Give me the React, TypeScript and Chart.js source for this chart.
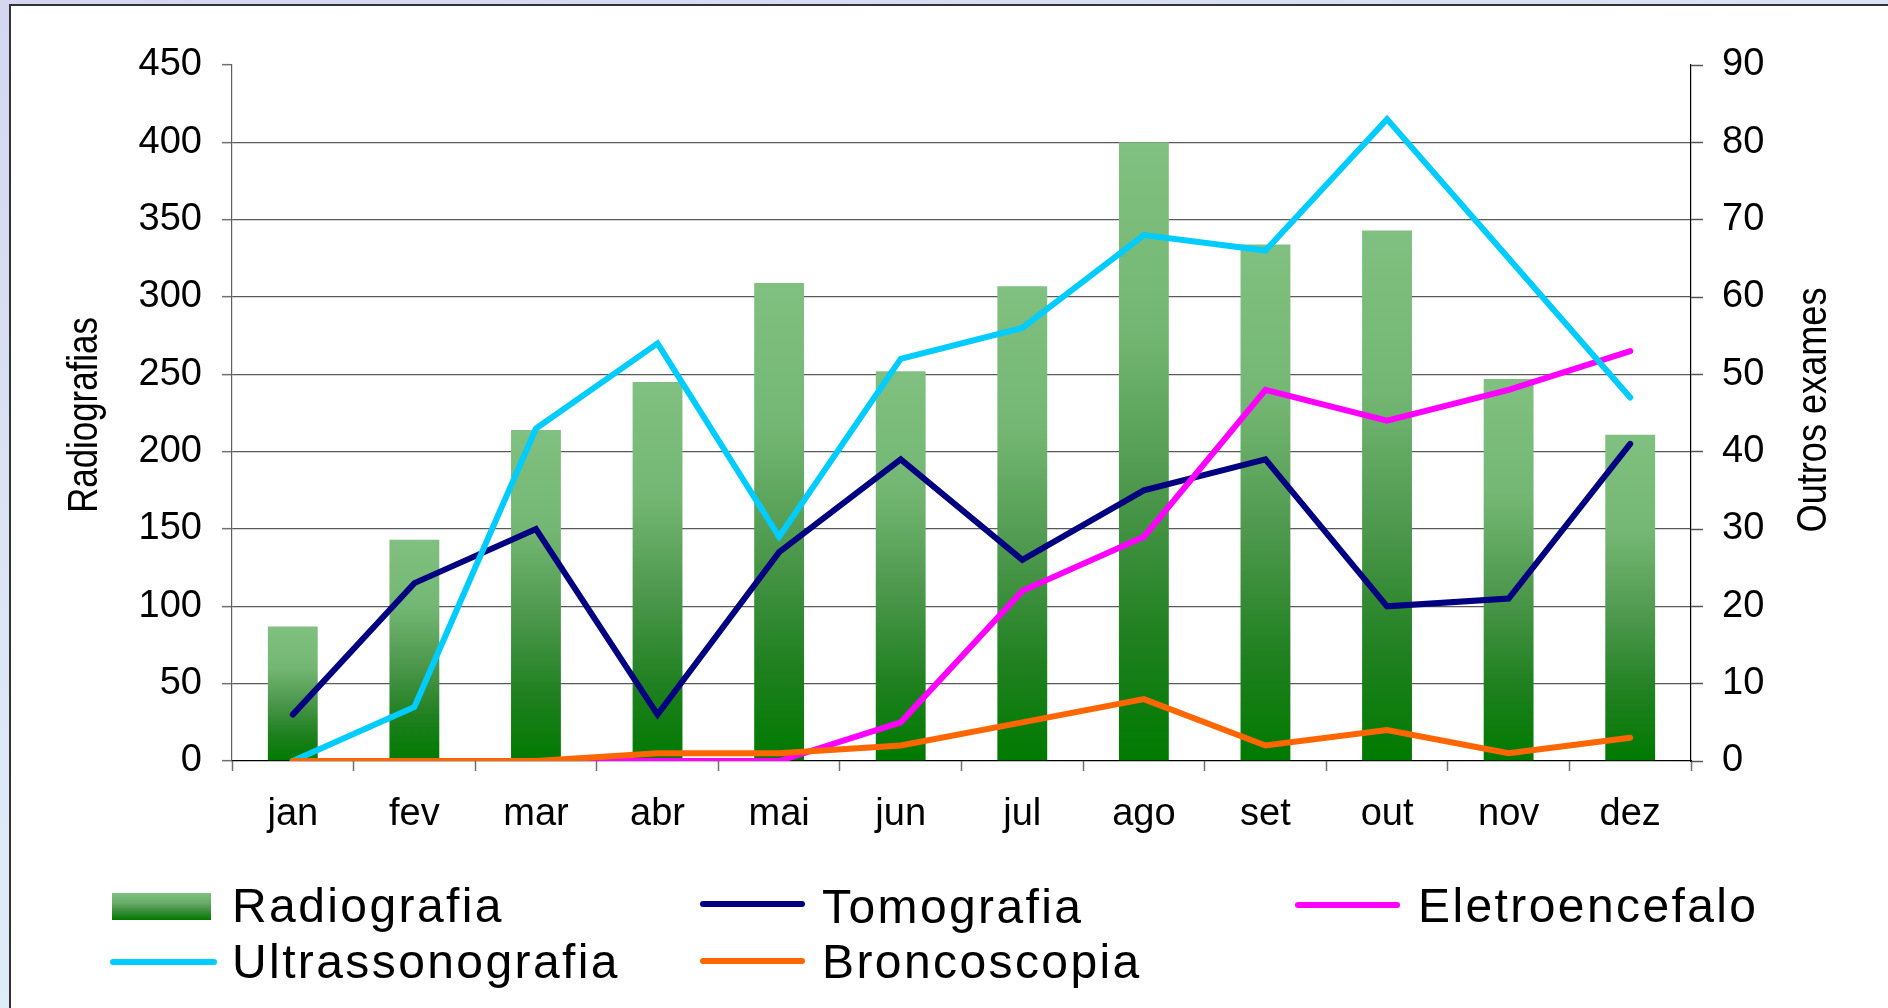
import React, { useEffect, useRef } from 'react';
import { Chart, registerables } from 'chart.js';

Chart.register(...registerables);

// ---------- data ----------
const months = ['jan', 'fev', 'mar', 'abr', 'mai', 'jun', 'jul', 'ago', 'set', 'out', 'nov', 'dez'];
const radiografia = [87, 143, 214, 245, 309, 252, 307, 400, 334, 343, 247, 211];
const tomografia = [6, 23, 30, 6, 27, 39, 26, 35, 39, 20, 21, 41];
const eletroencefalo = [0, 0, 0, 0, 0, 5, 22, 29, 48, 44, 48, 53];
const ultrassonografia = [0, 7, 43, 54, 29, 52, 56, 68, 66, 83, 65, 47];
const broncoscopia = [0, 0, 0, 1, 1, 2, 5, 8, 2, 4, 1, 3];

const leftAxisTitle = 'Radiografias';
const rightAxisTitle = 'Outros exames';
const leftMax = 450;
const leftStep = 50;
const rightMax = 90;
const rightStep = 10;

const seriesNames = ['Radiografia', 'Tomografia', 'Eletroencefalo', 'Ultrassonografia', 'Broncoscopia'];

// ---------- styles ----------
const FONT = '"Liberation Sans", Arial, Helvetica, sans-serif';
const COLORS = {
  tomografia: '#000080',
  eletro: '#ff00ff',
  ultra: '#00ccff',
  bronco: '#ff6600',
};
const BAR_STOPS: [number, string][] = [
  [0, '#80c080'],
  [0.3, '#74b774'],
  [0.55, '#4f994f'],
  [0.8, '#1f801f'],
  [1, '#007a00'],
];
const CSS_BAR_GRADIENT = 'linear-gradient(to bottom, #80c080 0%, #6aae6a 35%, #3f8f3f 65%, #007a00 100%)';

const W = 1888;
const H = 1008;
const AREA = { left: 232, right: 1691, top: 65, bottom: 761 };

const axisTitlePlugin = {
  id: 'axisTitlesCustom',
  afterDraw(chart: any) {
    const { ctx, chartArea } = chart;
    const midY = (chartArea.top + chartArea.bottom) / 2;
    const draw = (text: string, x: number, y: number, sx: number) => {
      ctx.save();
      ctx.translate(x, y);
      ctx.rotate(-Math.PI / 2);
      ctx.scale(sx, 1);
      ctx.font = `42px ${FONT}`;
      ctx.fillStyle = '#000';
      ctx.textAlign = 'center';
      ctx.textBaseline = 'alphabetic';
      ctx.fillText(text, 0, 0);
      ctx.restore();
    };
    draw(leftAxisTitle, chartArea.left - 135, midY + 2, 0.83);
    draw(rightAxisTitle, chartArea.right + 135, midY - 3, 0.86);
  },
};

type LegendLayout = {
  kind: 'bar' | 'line';
  color: string;
  sx: number; sy: number; sw: number; sh: number;
  tx: number; baseline: number;
};

const legendLayout: LegendLayout[] = [
  { kind: 'bar', color: '', sx: 112, sy: 893, sw: 99, sh: 27, tx: 232, baseline: 923 },
  { kind: 'line', color: COLORS.tomografia, sx: 700, sy: 901, sw: 105, sh: 6, tx: 822, baseline: 924 },
  { kind: 'line', color: COLORS.eletro, sx: 1295, sy: 902, sw: 105, sh: 6, tx: 1418, baseline: 923 },
  { kind: 'line', color: COLORS.ultra, sx: 110, sy: 959, sw: 107, sh: 6, tx: 232, baseline: 979 },
  { kind: 'line', color: COLORS.bronco, sx: 700, sy: 958, sw: 105, sh: 6, tx: 822, baseline: 979 },
];

export default function App() {
  const canvasRef = useRef<HTMLCanvasElement | null>(null);

  useEffect(() => {
    const canvas = canvasRef.current;
    if (!canvas) return;

    const barGradient = (c: any) => {
      const chart = c.chart;
      if (!chart.chartArea || c.type !== 'data') return '#4f994f';
      const ys = chart.scales.y;
      const top = ys.getPixelForValue(c.raw);
      const bottom = ys.getPixelForValue(0);
      if (!isFinite(top) || !isFinite(bottom) || bottom - top < 1) return '#4f994f';
      const g = chart.ctx.createLinearGradient(0, top, 0, bottom);
      BAR_STOPS.forEach(([p, col]) => g.addColorStop(p, col));
      return g;
    };

    const lineDs = (label: string, data: number[], color: string, order: number) => ({
      type: 'line' as const,
      label,
      data,
      yAxisID: 'y1',
      borderColor: color,
      backgroundColor: color,
      borderWidth: 6,
      borderCapStyle: 'round' as const,
      borderJoinStyle: 'miter' as const,
      pointRadius: 0,
      pointHoverRadius: 0,
      tension: 0,
      fill: false,
      order,
    });

    const chart = new Chart(canvas, {
      type: 'bar',
      data: {
        labels: months,
        datasets: [
          {
            type: 'bar',
            label: seriesNames[0],
            data: radiografia,
            yAxisID: 'y',
            backgroundColor: barGradient,
            borderWidth: 0,
            barPercentage: 0.41,
            categoryPercentage: 1,
            order: 10,
          } as any,
          lineDs(seriesNames[1], tomografia, COLORS.tomografia, 5),
          lineDs(seriesNames[2], eletroencefalo, COLORS.eletro, 4),
          lineDs(seriesNames[3], ultrassonografia, COLORS.ultra, 3),
          lineDs(seriesNames[4], broncoscopia, COLORS.bronco, 1),
        ],
      },
      options: {
        responsive: false,
        maintainAspectRatio: false,
        animation: false,
        devicePixelRatio: 1,
        layout: { padding: { top: AREA.top, left: 0, right: 0, bottom: 0 } },
        plugins: {
          legend: { display: false },
          tooltip: { enabled: false },
          title: { display: false },
        },
        scales: {
          x: {
            type: 'category',
            offset: true,
            grid: {
              offset: true,
              drawOnChartArea: false,
              drawTicks: true,
              tickLength: 10,
              tickColor: '#707070',
              tickWidth: 1.5,
            },
            border: { display: true, color: '#000', width: 1.2 },
            ticks: {
              color: '#000',
              font: { family: FONT, size: 38 },
              padding: 21,
              maxRotation: 0,
              autoSkip: false,
            },
            afterFit: (s: any) => { s.height = H - AREA.bottom; },
          },
          y: {
            type: 'linear',
            position: 'left',
            min: 0,
            max: leftMax,
            ticks: {
              stepSize: leftStep,
              color: '#000',
              font: { family: FONT, size: 38 },
              padding: 20,
            },
            grid: {
              color: (c: any) => (c.tick && (c.tick.value === leftMax || c.tick.value === 0) ? 'rgba(0,0,0,0)' : '#5a5a5a'),
              lineWidth: 1.3,
              drawTicks: true,
              tickLength: 10,
              tickColor: '#707070',
              tickWidth: 1.5,
            },
            border: { display: true, color: '#606060', width: 1.2 },
            afterFit: (s: any) => { s.width = AREA.left; },
          },
          y1: {
            type: 'linear',
            position: 'right',
            min: 0,
            max: rightMax,
            ticks: {
              stepSize: rightStep,
              color: '#000',
              font: { family: FONT, size: 38 },
              padding: 19,
            },
            grid: {
              drawOnChartArea: false,
              drawTicks: true,
              tickLength: 12,
              tickColor: '#555',
              tickWidth: 1.5,
            },
            border: { display: true, color: '#000', width: 1.2 },
            afterFit: (s: any) => { s.width = W - AREA.right; },
          },
        },
      } as any,
      plugins: [axisTitlePlugin],
    });

    return () => chart.destroy();
  }, []);

  return (
    <div
      style={{
        position: 'fixed',
        left: 0,
        top: 0,
        width: W,
        height: H,
        overflow: 'hidden',
        background: 'linear-gradient(165deg, #d5d6f0 0%, #dde9f6 50%, #e1f4f9 100%)',
      }}
    >
      <div
        style={{
          position: 'absolute',
          left: 9,
          top: 4,
          width: W + 50,
          height: H + 50,
          borderLeft: '2px solid #333',
          borderTop: '2px solid #333',
          background: '#fff',
        }}
      />
      <canvas
        ref={canvasRef}
        width={W}
        height={H}
        style={{ position: 'absolute', left: 0, top: 0, width: W, height: H }}
      />
      {legendLayout.map((l, i) => (
        <React.Fragment key={i}>
          <div
            style={{
              position: 'absolute',
              left: l.sx,
              top: l.sy,
              width: l.sw,
              height: l.sh,
              background: l.kind === 'bar' ? CSS_BAR_GRADIENT : l.color,
              borderRadius: l.kind === 'bar' ? 0 : l.sh / 2,
            }}
          />
          <div
            style={{
              position: 'absolute',
              left: l.tx,
              top: l.baseline - 41,
              fontFamily: FONT,
              fontSize: 48,
              lineHeight: '48px',
              letterSpacing: 2.4,
              color: '#000',
              whiteSpace: 'nowrap',
            }}
          >
            {seriesNames[i]}
          </div>
        </React.Fragment>
      ))}
    </div>
  );
}
